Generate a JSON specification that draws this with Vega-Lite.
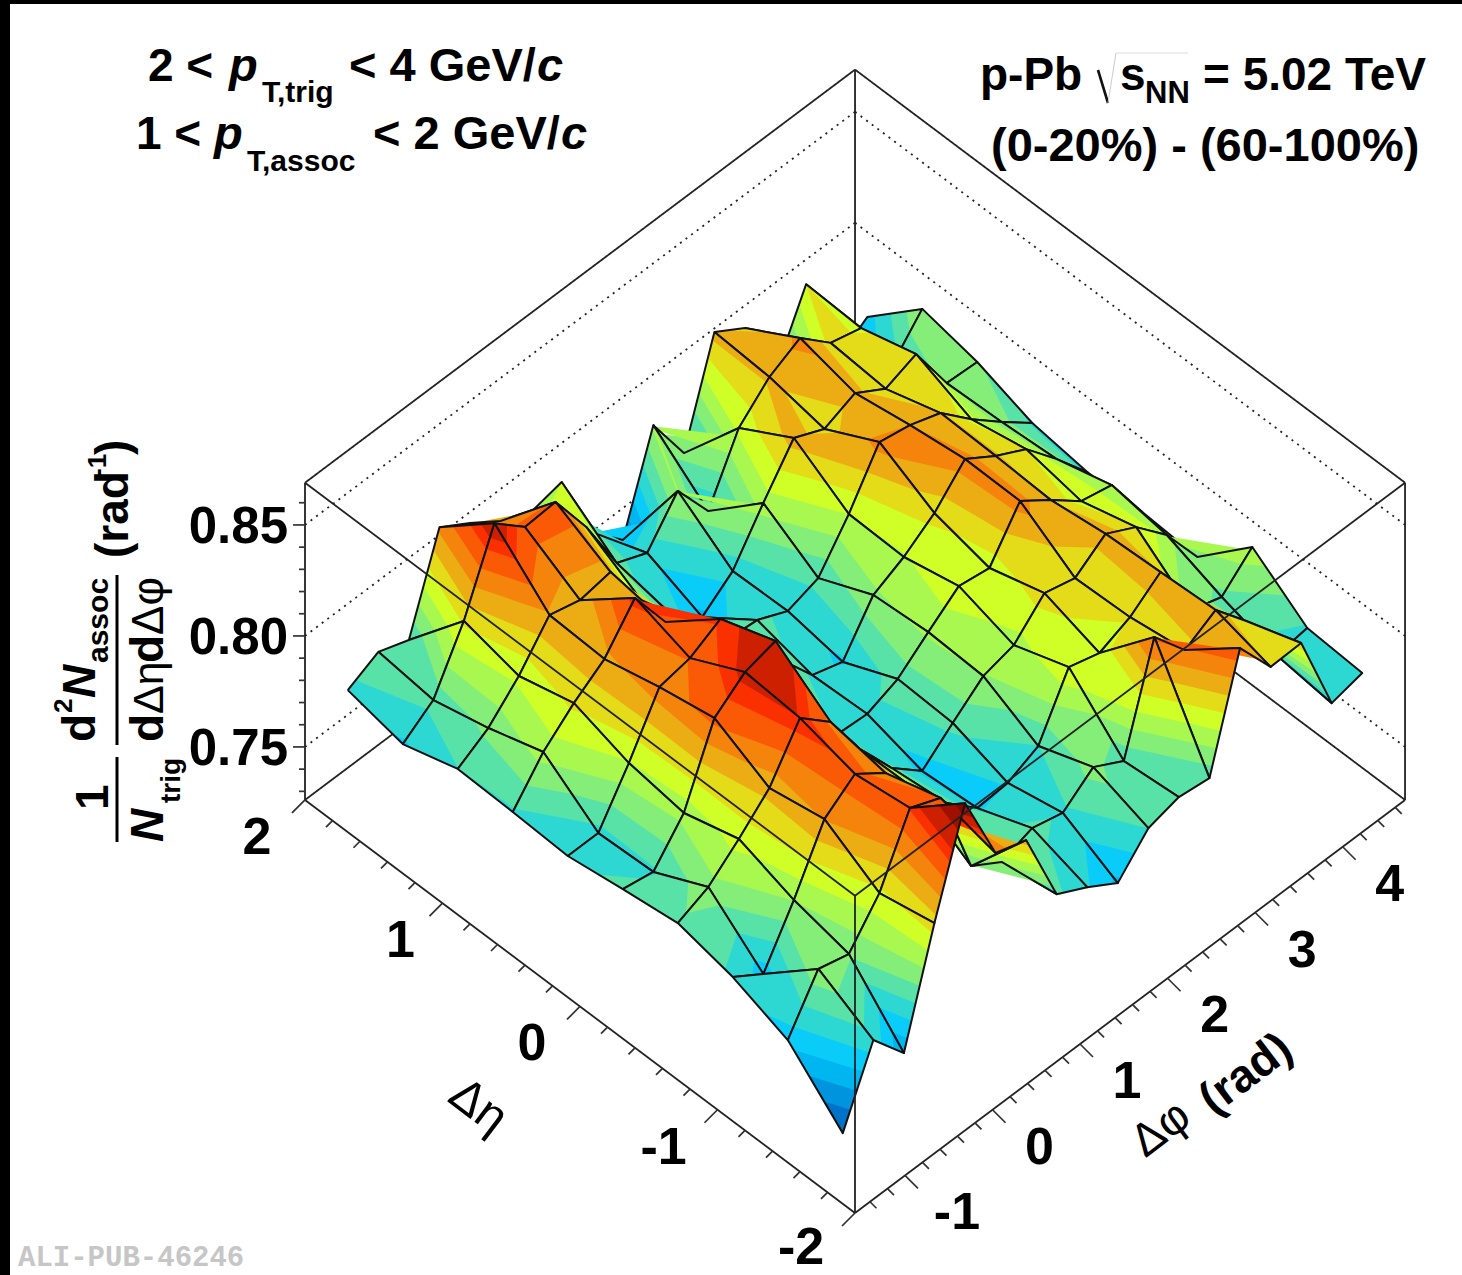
{"$schema":"https://vega.github.io/schema/vega-lite/v6.json","width":1452,"height":1271,"autosize":{"type":"none"},"padding":{"left":10,"top":4,"right":0,"bottom":0},"background":"#000000","view":{"fill":"#ffffff","stroke":null},
"data":{"values":[{"note":"annotation"}]},
"datasets":{
"nodes":[
{"k":17,"eta":1.8,"phi":4.538,"z":0.772},{"k":16,"eta":1.8,"phi":4.189,"z":0.763},{"k":15,"eta":1.8,"phi":3.84,"z":0.8075},{"k":14,"eta":1.8,"phi":3.491,"z":0.7783},{"k":13,"eta":1.8,"phi":3.142,"z":0.8084},{"k":12,"eta":1.8,"phi":2.793,"z":0.817},{"k":11,"eta":1.8,"phi":2.443,"z":0.7728},{"k":10,"eta":1.8,"phi":2.094,"z":0.7957},{"k":9,"eta":1.8,"phi":1.745,"z":0.7543},{"k":8,"eta":1.8,"phi":1.396,"z":0.7682},{"k":7,"eta":1.8,"phi":1.047,"z":0.8011},{"k":6,"eta":1.8,"phi":0.698,"z":0.7979},{"k":5,"eta":1.8,"phi":0.349,"z":0.8042},{"k":4,"eta":1.8,"phi":0,"z":0.8136},{"k":3,"eta":1.8,"phi":-0.349,"z":0.8221},{"k":2,"eta":1.8,"phi":-0.698,"z":0.7816},{"k":1,"eta":1.8,"phi":-1.047,"z":0.7866},{"k":0,"eta":1.8,"phi":-1.396,"z":0.7797},
{"k":117,"eta":1.4,"phi":4.538,"z":0.7943},{"k":116,"eta":1.4,"phi":4.189,"z":0.7789},{"k":115,"eta":1.4,"phi":3.84,"z":0.8063},{"k":114,"eta":1.4,"phi":3.491,"z":0.81},{"k":113,"eta":1.4,"phi":3.142,"z":0.8225},{"k":112,"eta":1.4,"phi":2.793,"z":0.8153},{"k":111,"eta":1.4,"phi":2.443,"z":0.8027},{"k":110,"eta":1.4,"phi":2.094,"z":0.7756},{"k":109,"eta":1.4,"phi":1.745,"z":0.795},{"k":108,"eta":1.4,"phi":1.396,"z":0.7774},{"k":107,"eta":1.4,"phi":1.047,"z":0.7832},{"k":106,"eta":1.4,"phi":0.698,"z":0.8098},{"k":105,"eta":1.4,"phi":0.349,"z":0.8314},{"k":104,"eta":1.4,"phi":0,"z":0.8304},{"k":103,"eta":1.4,"phi":-0.349,"z":0.8425},{"k":102,"eta":1.4,"phi":-0.698,"z":0.8088},{"k":101,"eta":1.4,"phi":-1.047,"z":0.7835},{"k":100,"eta":1.4,"phi":-1.396,"z":0.774},
{"k":217,"eta":1,"phi":4.538,"z":0.789},{"k":216,"eta":1,"phi":4.189,"z":0.7898},{"k":215,"eta":1,"phi":3.84,"z":0.8132},{"k":214,"eta":1,"phi":3.491,"z":0.8079},{"k":213,"eta":1,"phi":3.142,"z":0.8163},{"k":212,"eta":1,"phi":2.793,"z":0.8105},{"k":211,"eta":1,"phi":2.443,"z":0.8168},{"k":210,"eta":1,"phi":2.094,"z":0.7978},{"k":209,"eta":1,"phi":1.745,"z":0.7775},{"k":208,"eta":1,"phi":1.396,"z":0.7671},{"k":207,"eta":1,"phi":1.047,"z":0.7784},{"k":206,"eta":1,"phi":0.698,"z":0.7955},{"k":205,"eta":1,"phi":0.349,"z":0.8184},{"k":204,"eta":1,"phi":0,"z":0.8161},{"k":203,"eta":1,"phi":-0.349,"z":0.8197},{"k":202,"eta":1,"phi":-0.698,"z":0.8026},{"k":201,"eta":1,"phi":-1.047,"z":0.7895},{"k":200,"eta":1,"phi":-1.396,"z":0.7814},
{"k":317,"eta":0.6,"phi":4.538,"z":0.7801},{"k":316,"eta":0.6,"phi":4.189,"z":0.7909},{"k":315,"eta":0.6,"phi":3.84,"z":0.8025},{"k":314,"eta":0.6,"phi":3.491,"z":0.8156},{"k":313,"eta":0.6,"phi":3.142,"z":0.8205},{"k":312,"eta":0.6,"phi":2.793,"z":0.8232},{"k":311,"eta":0.6,"phi":2.443,"z":0.8011},{"k":310,"eta":0.6,"phi":2.094,"z":0.7826},{"k":309,"eta":0.6,"phi":1.745,"z":0.7781},{"k":308,"eta":0.6,"phi":1.396,"z":0.7844},{"k":307,"eta":0.6,"phi":1.047,"z":0.7857},{"k":306,"eta":0.6,"phi":0.698,"z":0.8029},{"k":305,"eta":0.6,"phi":0.349,"z":0.8145},{"k":304,"eta":0.6,"phi":0,"z":0.8357},{"k":303,"eta":0.6,"phi":-0.349,"z":0.8185},{"k":302,"eta":0.6,"phi":-0.698,"z":0.809},{"k":301,"eta":0.6,"phi":-1.047,"z":0.7973},{"k":300,"eta":0.6,"phi":-1.396,"z":0.7806},
{"k":417,"eta":0.2,"phi":4.538,"z":0.7766},{"k":416,"eta":0.2,"phi":4.189,"z":0.7928},{"k":415,"eta":0.2,"phi":3.84,"z":0.8076},{"k":414,"eta":0.2,"phi":3.491,"z":0.8149},{"k":413,"eta":0.2,"phi":3.142,"z":0.8238},{"k":412,"eta":0.2,"phi":2.793,"z":0.8098},{"k":411,"eta":0.2,"phi":2.443,"z":0.8004},{"k":410,"eta":0.2,"phi":2.094,"z":0.7936},{"k":409,"eta":0.2,"phi":1.745,"z":0.7738},{"k":408,"eta":0.2,"phi":1.396,"z":0.7782},{"k":407,"eta":0.2,"phi":1.047,"z":0.7953},{"k":406,"eta":0.2,"phi":0.698,"z":0.8125},{"k":405,"eta":0.2,"phi":0.349,"z":0.8345},{"k":404,"eta":0.2,"phi":0,"z":0.8272},{"k":403,"eta":0.2,"phi":-0.349,"z":0.8245},{"k":402,"eta":0.2,"phi":-0.698,"z":0.8006},{"k":401,"eta":0.2,"phi":-1.047,"z":0.7794},{"k":400,"eta":0.2,"phi":-1.396,"z":0.7794},
{"k":517,"eta":-0.2,"phi":4.538,"z":0.7772},{"k":516,"eta":-0.2,"phi":4.189,"z":0.7997},{"k":515,"eta":-0.2,"phi":3.84,"z":0.8028},{"k":514,"eta":-0.2,"phi":3.491,"z":0.8137},{"k":513,"eta":-0.2,"phi":3.142,"z":0.8235},{"k":512,"eta":-0.2,"phi":2.793,"z":0.8037},{"k":511,"eta":-0.2,"phi":2.443,"z":0.8059},{"k":510,"eta":-0.2,"phi":2.094,"z":0.7955},{"k":509,"eta":-0.2,"phi":1.745,"z":0.7847},{"k":508,"eta":-0.2,"phi":1.396,"z":0.7793},{"k":507,"eta":-0.2,"phi":1.047,"z":0.7802},{"k":506,"eta":-0.2,"phi":0.698,"z":0.8063},{"k":505,"eta":-0.2,"phi":0.349,"z":0.8432},{"k":504,"eta":-0.2,"phi":0,"z":0.8395},{"k":503,"eta":-0.2,"phi":-0.349,"z":0.8291},{"k":502,"eta":-0.2,"phi":-0.698,"z":0.7967},{"k":501,"eta":-0.2,"phi":-1.047,"z":0.7805},{"k":500,"eta":-0.2,"phi":-1.396,"z":0.7831},
{"k":617,"eta":-0.6,"phi":4.538,"z":0.7756},{"k":616,"eta":-0.6,"phi":4.189,"z":0.7958},{"k":615,"eta":-0.6,"phi":3.84,"z":0.8097},{"k":614,"eta":-0.6,"phi":3.491,"z":0.817},{"k":613,"eta":-0.6,"phi":3.142,"z":0.8074},{"k":612,"eta":-0.6,"phi":2.793,"z":0.811},{"k":611,"eta":-0.6,"phi":2.443,"z":0.7979},{"k":610,"eta":-0.6,"phi":2.094,"z":0.7943},{"k":609,"eta":-0.6,"phi":1.745,"z":0.7835},{"k":608,"eta":-0.6,"phi":1.396,"z":0.7722},{"k":607,"eta":-0.6,"phi":1.047,"z":0.7839},{"k":606,"eta":-0.6,"phi":0.698,"z":0.8024},{"k":605,"eta":-0.6,"phi":0.349,"z":0.8253},{"k":604,"eta":-0.6,"phi":0,"z":0.8374},{"k":603,"eta":-0.6,"phi":-0.349,"z":0.8162},{"k":602,"eta":-0.6,"phi":-0.698,"z":0.8036},{"k":601,"eta":-0.6,"phi":-1.047,"z":0.7923},{"k":600,"eta":-0.6,"phi":-1.396,"z":0.7864},
{"k":717,"eta":-1,"phi":4.538,"z":0.7987},{"k":716,"eta":-1,"phi":4.189,"z":0.7865},{"k":715,"eta":-1,"phi":3.84,"z":0.7909},{"k":714,"eta":-1,"phi":3.491,"z":0.8184},{"k":713,"eta":-1,"phi":3.142,"z":0.8084},{"k":712,"eta":-1,"phi":2.793,"z":0.8026},{"k":711,"eta":-1,"phi":2.443,"z":0.8066},{"k":710,"eta":-1,"phi":2.094,"z":0.7814},{"k":709,"eta":-1,"phi":1.745,"z":0.7751},{"k":708,"eta":-1,"phi":1.396,"z":0.7741},{"k":707,"eta":-1,"phi":1.047,"z":0.7867},{"k":706,"eta":-1,"phi":0.698,"z":0.8029},{"k":705,"eta":-1,"phi":0.349,"z":0.8209},{"k":704,"eta":-1,"phi":0,"z":0.8308},{"k":703,"eta":-1,"phi":-0.349,"z":0.8208},{"k":702,"eta":-1,"phi":-0.698,"z":0.7947},{"k":701,"eta":-1,"phi":-1.047,"z":0.7717},{"k":700,"eta":-1,"phi":-1.396,"z":0.7807},
{"k":817,"eta":-1.4,"phi":4.538,"z":0.7808},{"k":816,"eta":-1.4,"phi":4.189,"z":0.7789},{"k":815,"eta":-1.4,"phi":3.84,"z":0.8046},{"k":814,"eta":-1.4,"phi":3.491,"z":0.8199},{"k":813,"eta":-1.4,"phi":3.142,"z":0.8122},{"k":812,"eta":-1.4,"phi":2.793,"z":0.8284},{"k":811,"eta":-1.4,"phi":2.443,"z":0.7829},{"k":810,"eta":-1.4,"phi":2.094,"z":0.7905},{"k":809,"eta":-1.4,"phi":1.745,"z":0.7802},{"k":808,"eta":-1.4,"phi":1.396,"z":0.7837},{"k":807,"eta":-1.4,"phi":1.047,"z":0.7788},{"k":806,"eta":-1.4,"phi":0.698,"z":0.7873},{"k":805,"eta":-1.4,"phi":0.349,"z":0.8283},{"k":804,"eta":-1.4,"phi":0,"z":0.8341},{"k":803,"eta":-1.4,"phi":-0.349,"z":0.8061},{"k":802,"eta":-1.4,"phi":-0.698,"z":0.789},{"k":801,"eta":-1.4,"phi":-1.047,"z":0.7926},{"k":800,"eta":-1.4,"phi":-1.396,"z":0.7709},
{"k":917,"eta":-1.8,"phi":4.538,"z":0.7791},{"k":916,"eta":-1.8,"phi":4.189,"z":0.7759},{"k":915,"eta":-1.8,"phi":3.84,"z":0.8133},{"k":914,"eta":-1.8,"phi":3.491,"z":0.8129},{"k":913,"eta":-1.8,"phi":3.142,"z":0.8317},{"k":912,"eta":-1.8,"phi":2.793,"z":0.7835},{"k":911,"eta":-1.8,"phi":2.443,"z":0.7853},{"k":910,"eta":-1.8,"phi":2.094,"z":0.7816},{"k":909,"eta":-1.8,"phi":1.745,"z":0.7672},{"k":908,"eta":-1.8,"phi":1.396,"z":0.7757},{"k":907,"eta":-1.8,"phi":1.047,"z":0.7829},{"k":906,"eta":-1.8,"phi":0.698,"z":0.8176},{"k":905,"eta":-1.8,"phi":0.349,"z":0.8221},{"k":904,"eta":-1.8,"phi":0,"z":0.8549},{"k":903,"eta":-1.8,"phi":-0.349,"z":0.8112},{"k":902,"eta":-1.8,"phi":-0.698,"z":0.763},{"k":901,"eta":-1.8,"phi":-1.047,"z":0.7792},{"k":900,"eta":-1.8,"phi":-1.396,"z":0.7476}
],
"edges":[
{"part":"back","line":"solid","e0":2,"p0":-1.5708,"z0":0.869,"e1":2,"p1":4.7124,"z1":0.869},
{"part":"back","line":"solid","e0":2,"p0":4.7124,"z0":0.869,"e1":-2,"p1":4.7124,"z1":0.869},
{"part":"back","line":"solid","e0":2,"p0":-1.5708,"z0":0.7261,"e1":2,"p1":-1.5708,"z1":0.869},
{"part":"back","line":"solid","e0":-2,"p0":4.7124,"z0":0.7261,"e1":-2,"p1":4.7124,"z1":0.869},
{"part":"back","line":"solid","e0":2,"p0":4.7124,"z0":0.7261,"e1":2,"p1":4.7124,"z1":0.869},
{"part":"back","line":"solid","e0":2,"p0":-1.5708,"z0":0.7261,"e1":2,"p1":4.7124,"z1":0.7261},
{"part":"back","line":"solid","e0":2,"p0":4.7124,"z0":0.7261,"e1":-2,"p1":4.7124,"z1":0.7261},
{"part":"back","line":"dotted","e0":2,"p0":-1.5708,"z0":0.75,"e1":2,"p1":4.7124,"z1":0.75},
{"part":"back","line":"dotted","e0":2,"p0":-1.5708,"z0":0.8,"e1":2,"p1":4.7124,"z1":0.8},
{"part":"back","line":"dotted","e0":2,"p0":-1.5708,"z0":0.85,"e1":2,"p1":4.7124,"z1":0.85},
{"part":"back","line":"dotted","e0":2,"p0":4.7124,"z0":0.75,"e1":-2,"p1":4.7124,"z1":0.75},
{"part":"back","line":"dotted","e0":2,"p0":4.7124,"z0":0.8,"e1":-2,"p1":4.7124,"z1":0.8},
{"part":"back","line":"dotted","e0":2,"p0":4.7124,"z0":0.85,"e1":-2,"p1":4.7124,"z1":0.85},
{"part":"front","line":"solid","e0":2,"p0":-1.5708,"z0":0.869,"e1":-2,"p1":-1.5708,"z1":0.869},
{"part":"front","line":"solid","e0":-2,"p0":-1.5708,"z0":0.869,"e1":-2,"p1":4.7124,"z1":0.869},
{"part":"front","line":"solid","e0":-2,"p0":-1.5708,"z0":0.7261,"e1":-2,"p1":-1.5708,"z1":0.869},
{"part":"front","line":"solid","e0":2,"p0":-1.5708,"z0":0.7261,"e1":-2,"p1":-1.5708,"z1":0.7261},
{"part":"front","line":"solid","e0":-2,"p0":-1.5708,"z0":0.7261,"e1":-2,"p1":4.7124,"z1":0.7261}
],
"ticks":[
{"axis":"eta","v":-2,"m":1},{"axis":"eta","v":-1.8,"m":0},{"axis":"eta","v":-1.6,"m":0},{"axis":"eta","v":-1.4,"m":0},{"axis":"eta","v":-1.2,"m":0},{"axis":"eta","v":-1,"m":1},{"axis":"eta","v":-0.8,"m":0},{"axis":"eta","v":-0.6,"m":0},{"axis":"eta","v":-0.4,"m":0},{"axis":"eta","v":-0.2,"m":0},{"axis":"eta","v":0,"m":1},{"axis":"eta","v":0.2,"m":0},{"axis":"eta","v":0.4,"m":0},{"axis":"eta","v":0.6,"m":0},{"axis":"eta","v":0.8,"m":0},{"axis":"eta","v":1,"m":1},{"axis":"eta","v":1.2,"m":0},{"axis":"eta","v":1.4,"m":0},{"axis":"eta","v":1.6,"m":0},{"axis":"eta","v":1.8,"m":0},{"axis":"eta","v":2,"m":1},
{"axis":"phi","v":-1.4,"m":0},{"axis":"phi","v":-1.2,"m":0},{"axis":"phi","v":-1,"m":1},{"axis":"phi","v":-0.8,"m":0},{"axis":"phi","v":-0.6,"m":0},{"axis":"phi","v":-0.4,"m":0},{"axis":"phi","v":-0.2,"m":0},{"axis":"phi","v":0,"m":1},{"axis":"phi","v":0.2,"m":0},{"axis":"phi","v":0.4,"m":0},{"axis":"phi","v":0.6,"m":0},{"axis":"phi","v":0.8,"m":0},{"axis":"phi","v":1,"m":1},{"axis":"phi","v":1.2,"m":0},{"axis":"phi","v":1.4,"m":0},{"axis":"phi","v":1.6,"m":0},{"axis":"phi","v":1.8,"m":0},{"axis":"phi","v":2,"m":1},{"axis":"phi","v":2.2,"m":0},{"axis":"phi","v":2.4,"m":0},{"axis":"phi","v":2.6,"m":0},{"axis":"phi","v":2.8,"m":0},{"axis":"phi","v":3,"m":1},{"axis":"phi","v":3.2,"m":0},{"axis":"phi","v":3.4,"m":0},{"axis":"phi","v":3.6,"m":0},{"axis":"phi","v":3.8,"m":0},{"axis":"phi","v":4,"m":1},{"axis":"phi","v":4.2,"m":0},{"axis":"phi","v":4.4,"m":0},{"axis":"phi","v":4.6,"m":0},
{"axis":"z","v":0.73,"m":0},{"axis":"z","v":0.74,"m":0},{"axis":"z","v":0.75,"m":1},{"axis":"z","v":0.76,"m":0},{"axis":"z","v":0.77,"m":0},{"axis":"z","v":0.78,"m":0},{"axis":"z","v":0.79,"m":0},{"axis":"z","v":0.8,"m":1},{"axis":"z","v":0.81,"m":0},{"axis":"z","v":0.82,"m":0},{"axis":"z","v":0.83,"m":0},{"axis":"z","v":0.84,"m":0},{"axis":"z","v":0.85,"m":1},{"axis":"z","v":0.86,"m":0}
],
"labels":[
{"axis":"eta","v":-2,"label":"-2"},{"axis":"eta","v":-1,"label":"-1"},{"axis":"eta","v":0,"label":"0"},{"axis":"eta","v":1,"label":"1"},{"axis":"eta","v":2,"label":"2"},
{"axis":"phi","v":-1,"label":"-1"},{"axis":"phi","v":0,"label":"0"},{"axis":"phi","v":1,"label":"1"},{"axis":"phi","v":2,"label":"2"},{"axis":"phi","v":3,"label":"3"},{"axis":"phi","v":4,"label":"4"},
{"axis":"z","v":0.75,"label":"0.75"},{"axis":"z","v":0.8,"label":"0.80"},{"axis":"z","v":0.85,"label":"0.85"}
]},
"layer":[
{"data":{"name":"edges"},"transform":[{"filter":"datum.part=='back'"},
{"calculate":"855-(datum.e0+2)*137.5+(datum.p0+1.5708)*87.54","as":"x0"},{"calculate":"855-(datum.e1+2)*137.5+(datum.p1+1.5708)*87.54","as":"x1"},
{"calculate":"1213-0.751*((datum.e0+2)*137.5+(datum.p0+1.5708)*87.54)-(datum.z0-0.7261)*2220","as":"y0"},{"calculate":"1213-0.751*((datum.e1+2)*137.5+(datum.p1+1.5708)*87.54)-(datum.z1-0.7261)*2220","as":"y1"}],
"mark":{"type":"rule","strokeWidth":1.8,"color":"#222222"},
"encoding":{"x":{"field":"x0","type":"quantitative","scale":{"domain":[10,1462]},"axis":null},"x2":{"field":"x1"},"y":{"field":"y0","type":"quantitative","scale":{"domain":[1275,4]},"axis":null},"y2":{"field":"y1"},"strokeDash":{"field":"line","type":"nominal","scale":{"domain":["solid","dotted"],"range":[[1,0],[2,5]]},"legend":null}}},
{"data":{"name":"nodes"},"transform":[{"filter":"datum.k%100<17&&datum.k<900"},
{"calculate":"datum.k+100","as":"k10"},{"calculate":"datum.k+1","as":"k01"},{"calculate":"datum.k+101","as":"k11"},
{"lookup":"k10","from":{"data":{"name":"nodes"},"key":"k","fields":["z"]},"as":["z10"]},
{"lookup":"k01","from":{"data":{"name":"nodes"},"key":"k","fields":["z"]},"as":["z01"]},
{"lookup":"k11","from":{"data":{"name":"nodes"},"key":"k","fields":["z"]},"as":["z11"]},
{"calculate":"[0,1,2,3,4,5,6,7,8,9,10,11,12,13,14,15,16,99]","as":"lev"},{"flatten":["lev"]},
{"calculate":"datum.lev==99||datum.lev==0?-1:[0,0.7555,0.762,0.7685,0.775,0.7815,0.788,0.7945,0.801,0.8075,0.814,0.8205,0.827,0.8335,0.8375,0.845,0.851][datum.lev]","as":"T"},
{"filter":"max(datum.z,datum.z10,datum.z01,datum.z11)>=datum.T"},
{"calculate":"[0,1,2,3,4,5,6,7,8]","as":"s"},{"flatten":["s"]},
{"calculate":"floor(datum.s/2)%4","as":"v"},{"calculate":"datum.s%2","as":"kind"},
{"calculate":"[datum.z,datum.z10,datum.z11,datum.z01][datum.v]","as":"zA"},
{"calculate":"[datum.z,datum.z10,datum.z11,datum.z01][(datum.v+1)%4]","as":"zB"},
{"filter":"datum.s==8?datum.lev==99:(datum.kind==0?datum.zA>=datum.T:((datum.zA>=datum.T)!=(datum.zB>=datum.T)))"},
{"calculate":"datum.kind==0?0:(datum.T-datum.zA)/(datum.zB-datum.zA)","as":"t"},
{"calculate":"[0,1,1,0][datum.v]","as":"diA"},{"calculate":"[0,1,1,0][(datum.v+1)%4]","as":"diB"},
{"calculate":"[0,0,1,1][datum.v]","as":"djA"},{"calculate":"[0,0,1,1][(datum.v+1)%4]","as":"djB"},
{"calculate":"datum.eta-0.4*(datum.diA+datum.t*(datum.diB-datum.diA))","as":"e"},
{"calculate":"datum.phi+0.349*(datum.djA+datum.t*(datum.djB-datum.djA))","as":"p"},
{"calculate":"datum.zA+datum.t*(datum.zB-datum.zA)","as":"zz"},
{"calculate":"855-(datum.e+2)*137.5+(datum.p+1.5708)*87.54","as":"px"},
{"calculate":"1213-0.751*((datum.e+2)*137.5+(datum.p+1.5708)*87.54)-(datum.zz-0.7261)*2220","as":"py"},
{"calculate":"datum.k*100+datum.lev","as":"g"},
{"calculate":"datum.lev==99?'transparent':['#0072c8','#0094de','#00b6f0','#0accf8','#2dd8d2','#58e2a8','#85ee78','#a8f850','#d0ff28','#e4dc18','#ecac14','#f4840c','#fa5a06','#fa3000','#cc2000','#a01000','#800800'][datum.lev]","as":"fc"},
{"calculate":"datum.lev==99?'#111111':'transparent'","as":"sc"}],
"mark":{"type":"line","strokeWidth":2,"strokeJoin":"round","interpolate":"linear"},
"encoding":{"x":{"field":"px","type":"quantitative","scale":{"domain":[10,1462]},"axis":null},"y":{"field":"py","type":"quantitative","scale":{"domain":[1275,4]},"axis":null},"order":{"field":"s"},"detail":{"field":"g"},"fill":{"field":"fc","type":"nominal","scale":null},"stroke":{"field":"sc","type":"nominal","scale":null}}},
{"data":{"name":"edges"},"transform":[{"filter":"datum.part=='front'"},
{"calculate":"855-(datum.e0+2)*137.5+(datum.p0+1.5708)*87.54","as":"x0"},{"calculate":"855-(datum.e1+2)*137.5+(datum.p1+1.5708)*87.54","as":"x1"},
{"calculate":"1213-0.751*((datum.e0+2)*137.5+(datum.p0+1.5708)*87.54)-(datum.z0-0.7261)*2220","as":"y0"},{"calculate":"1213-0.751*((datum.e1+2)*137.5+(datum.p1+1.5708)*87.54)-(datum.z1-0.7261)*2220","as":"y1"}],
"mark":{"type":"rule","strokeWidth":1.8,"color":"#222222"},
"encoding":{"x":{"field":"x0","type":"quantitative","scale":{"domain":[10,1462]},"axis":null},"x2":{"field":"x1"},"y":{"field":"y0","type":"quantitative","scale":{"domain":[1275,4]},"axis":null},"y2":{"field":"y1"}}},
{"data":{"name":"ticks"},"transform":[
{"calculate":"datum.axis=='z'?305:datum.axis=='eta'?855-(datum.v+2)*137.5:855+(datum.v+1.5708)*87.54","as":"bx"},
{"calculate":"datum.axis=='z'?800-(datum.v-0.7261)*2220:datum.axis=='eta'?1213-0.751*(datum.v+2)*137.5:1213-0.751*(datum.v+1.5708)*87.54","as":"by"},
{"calculate":"datum.bx+(datum.axis=='phi'?13:datum.axis=='eta'?-13:-12)*(datum.m?1:0.5)","as":"ex"},
{"calculate":"datum.by+(datum.axis=='z'?0:13)*(datum.m?1:0.5)","as":"ey"}],
"mark":{"type":"rule","strokeWidth":1.7,"color":"#333333"},
"encoding":{"x":{"field":"bx","type":"quantitative","scale":{"domain":[10,1462]},"axis":null},"x2":{"field":"ex"},"y":{"field":"by","type":"quantitative","scale":{"domain":[1275,4]},"axis":null},"y2":{"field":"ey"}}},
{"data":{"name":"labels"},"transform":[{"filter":"datum.axis!='z'"},
{"calculate":"datum.axis=='eta'?855-(datum.v+2)*137.5-48-(datum.v<0?6:0)+(datum.v==1?6:0):855+(datum.v+1.5708)*87.54+47+(datum.v<0?5:0)","as":"lx"},
{"calculate":"(datum.axis=='eta'?1213-0.751*(datum.v+2)*137.5:1213-0.751*(datum.v+1.5708)*87.54)+38-(datum.axis=='eta'&&datum.v==-2?3:0)","as":"ly"}],
"mark":{"type":"text","font":"Liberation Sans","fontWeight":"bold","fontSize":52,"align":"center","baseline":"middle","color":"#000000"},
"encoding":{"x":{"field":"lx","type":"quantitative","scale":{"domain":[10,1462]},"axis":null},"y":{"field":"ly","type":"quantitative","scale":{"domain":[1275,4]},"axis":null},"text":{"field":"label"}}},
{"data":{"name":"labels"},"transform":[{"filter":"datum.axis=='z'"},
{"calculate":"288","as":"lx"},{"calculate":"800-(datum.v-0.7261)*2220+3","as":"ly"}],
"mark":{"type":"text","font":"Liberation Sans","fontWeight":"bold","fontSize":51,"align":"right","baseline":"middle","color":"#000000"},
"encoding":{"x":{"field":"lx","type":"quantitative","scale":{"domain":[10,1462]},"axis":null},"y":{"field":"ly","type":"quantitative","scale":{"domain":[1275,4]},"axis":null},"text":{"field":"label"}}},
{"mark":{"type":"text","text":"2 <","x":138,"y":77,"font":"Liberation Sans","fontWeight":"bold","fontSize":46,"align":"left","baseline":"alphabetic"},"encoding":{}},
{"mark":{"type":"text","text":"p","x":219,"y":77,"font":"Liberation Sans","fontWeight":"bold","fontStyle":"italic","fontSize":47,"align":"left","baseline":"alphabetic"},"encoding":{}},
{"mark":{"type":"text","text":"T,trig","x":252,"y":98,"font":"Liberation Sans","fontWeight":"bold","fontSize":30,"align":"left","baseline":"alphabetic"},"encoding":{}},
{"mark":{"type":"text","text":"< 4 GeV/","x":339,"y":77,"font":"Liberation Sans","fontWeight":"bold","fontSize":47,"align":"left","baseline":"alphabetic"},"encoding":{}},
{"mark":{"type":"text","text":"c","x":527,"y":77,"font":"Liberation Sans","fontWeight":"bold","fontStyle":"italic","fontSize":47,"align":"left","baseline":"alphabetic"},"encoding":{}},
{"mark":{"type":"text","text":"1 <","x":126,"y":145,"font":"Liberation Sans","fontWeight":"bold","fontSize":46,"align":"left","baseline":"alphabetic"},"encoding":{}},
{"mark":{"type":"text","text":"p","x":204,"y":145,"font":"Liberation Sans","fontWeight":"bold","fontStyle":"italic","fontSize":47,"align":"left","baseline":"alphabetic"},"encoding":{}},
{"mark":{"type":"text","text":"T,assoc","x":237,"y":167,"font":"Liberation Sans","fontWeight":"bold","fontSize":30,"align":"left","baseline":"alphabetic"},"encoding":{}},
{"mark":{"type":"text","text":"< 2 GeV/","x":363,"y":145,"font":"Liberation Sans","fontWeight":"bold","fontSize":47,"align":"left","baseline":"alphabetic"},"encoding":{}},
{"mark":{"type":"text","text":"c","x":551,"y":145,"font":"Liberation Sans","fontWeight":"bold","fontStyle":"italic","fontSize":47,"align":"left","baseline":"alphabetic"},"encoding":{}},
{"mark":{"type":"text","text":"p-Pb","x":970,"y":86,"font":"Liberation Sans","fontWeight":"bold","fontSize":46,"align":"left","baseline":"alphabetic"},"encoding":{}},
{"mark":{"type":"text","text":"s","x":1110,"y":86,"font":"Liberation Sans","fontWeight":"bold","fontSize":46,"align":"left","baseline":"alphabetic"},"encoding":{}},
{"mark":{"type":"text","text":"NN","x":1135,"y":99,"font":"Liberation Sans","fontWeight":"bold","fontSize":31,"align":"left","baseline":"alphabetic"},"encoding":{}},
{"mark":{"type":"text","text":"= 5.02 TeV","x":1193,"y":86,"font":"Liberation Sans","fontWeight":"bold","fontSize":46,"align":"left","baseline":"alphabetic"},"encoding":{}},
{"mark":{"type":"text","text":"(0-20%) - (60-100%)","x":981,"y":157,"font":"Liberation Sans","fontWeight":"bold","fontSize":47,"align":"left","baseline":"alphabetic"},"encoding":{}},
{"mark":{"type":"rule","strokeWidth":2.6,"color":"#111111"},"encoding":{"x":{"value":1088},"y":{"value":66},"x2":{"value":1098},"y2":{"value":99}}},
{"mark":{"type":"rule","strokeWidth":1,"color":"#cccccc"},"encoding":{"x":{"value":1098},"y":{"value":99},"x2":{"value":1106},"y2":{"value":49}}},
{"mark":{"type":"rule","strokeWidth":1,"color":"#dddddd"},"encoding":{"x":{"value":1106},"y":{"value":49},"x2":{"value":1178},"y2":{"value":49}}},
{"mark":{"type":"text","text":"1","x":98,"y":806,"angle":270,"font":"Liberation Sans","fontWeight":"bold","fontSize":46,"align":"left","baseline":"alphabetic"},"encoding":{}},
{"mark":{"type":"text","text":"N","x":153,"y":838,"angle":270,"font":"Liberation Sans","fontWeight":"bold","fontStyle":"italic","fontSize":46,"align":"left","baseline":"alphabetic"},"encoding":{}},
{"mark":{"type":"text","text":"trig","x":170,"y":799,"angle":270,"font":"Liberation Sans","fontWeight":"bold","fontSize":28,"align":"left","baseline":"alphabetic"},"encoding":{}},
{"mark":{"type":"text","text":"d","x":85,"y":738,"angle":270,"font":"Liberation Sans","fontWeight":"bold","fontSize":46,"align":"left","baseline":"alphabetic"},"encoding":{}},
{"mark":{"type":"text","text":"2","x":62,"y":709,"angle":270,"font":"Liberation Sans","fontWeight":"bold","fontSize":26,"align":"left","baseline":"alphabetic"},"encoding":{}},
{"mark":{"type":"text","text":"N","x":85,"y":694,"angle":270,"font":"Liberation Sans","fontWeight":"bold","fontStyle":"italic","fontSize":46,"align":"left","baseline":"alphabetic"},"encoding":{}},
{"mark":{"type":"text","text":"assoc","x":98,"y":659,"angle":270,"font":"Liberation Sans","fontWeight":"bold","fontSize":30,"align":"left","baseline":"alphabetic"},"encoding":{}},
{"mark":{"type":"rule","strokeWidth":3,"color":"#000000"},"encoding":{"x":{"value":107},"y":{"value":571},"x2":{"value":107},"y2":{"value":741}}},
{"mark":{"type":"rule","strokeWidth":3,"color":"#000000"},"encoding":{"x":{"value":107},"y":{"value":753},"x2":{"value":107},"y2":{"value":838}}},
{"mark":{"type":"text","text":"d","x":153,"y":738,"angle":270,"font":"Liberation Sans","fontWeight":"bold","fontSize":46,"align":"left","baseline":"alphabetic"},"encoding":{}},
{"mark":{"type":"text","text":"Δη","x":153,"y":710,"angle":270,"font":"Liberation Sans","fontSize":43,"align":"left","baseline":"alphabetic"},"encoding":{}},
{"mark":{"type":"text","text":"d","x":153,"y":659,"angle":270,"font":"Liberation Sans","fontWeight":"bold","fontSize":46,"align":"left","baseline":"alphabetic"},"encoding":{}},
{"mark":{"type":"text","text":"Δφ","x":153,"y":631,"angle":270,"font":"Liberation Sans","fontSize":44,"align":"left","baseline":"alphabetic"},"encoding":{}},
{"mark":{"type":"text","text":"(rad","x":118,"y":554,"angle":270,"font":"Liberation Sans","fontWeight":"bold","fontSize":46,"align":"left","baseline":"alphabetic"},"encoding":{}},
{"mark":{"type":"text","text":"-1","x":96,"y":473,"angle":270,"font":"Liberation Sans","fontWeight":"bold","fontSize":26,"align":"left","baseline":"alphabetic"},"encoding":{}},
{"mark":{"type":"text","text":")","x":118,"y":451,"angle":270,"font":"Liberation Sans","fontWeight":"bold","fontSize":46,"align":"left","baseline":"alphabetic"},"encoding":{}},
{"mark":{"type":"text","text":"Δη","x":468,"y":1103,"angle":37,"font":"Liberation Sans","fontSize":48,"align":"center","baseline":"middle"},"encoding":{}},
{"mark":{"type":"text","text":"Δφ","x":1151,"y":1125,"angle":323,"font":"Liberation Sans","fontSize":46,"align":"center","baseline":"middle"},"encoding":{}},
{"mark":{"type":"text","text":"(rad)","x":1236,"y":1070,"angle":323,"font":"Liberation Sans","fontWeight":"bold","fontSize":46,"align":"center","baseline":"middle"},"encoding":{}},
{"mark":{"type":"text","text":"ALI-PUB-46246","x":8,"y":1262,"font":"Liberation Mono","fontWeight":"bold","fontSize":29,"align":"left","baseline":"alphabetic","color":"#c6c6c6"},"encoding":{}}
]}
